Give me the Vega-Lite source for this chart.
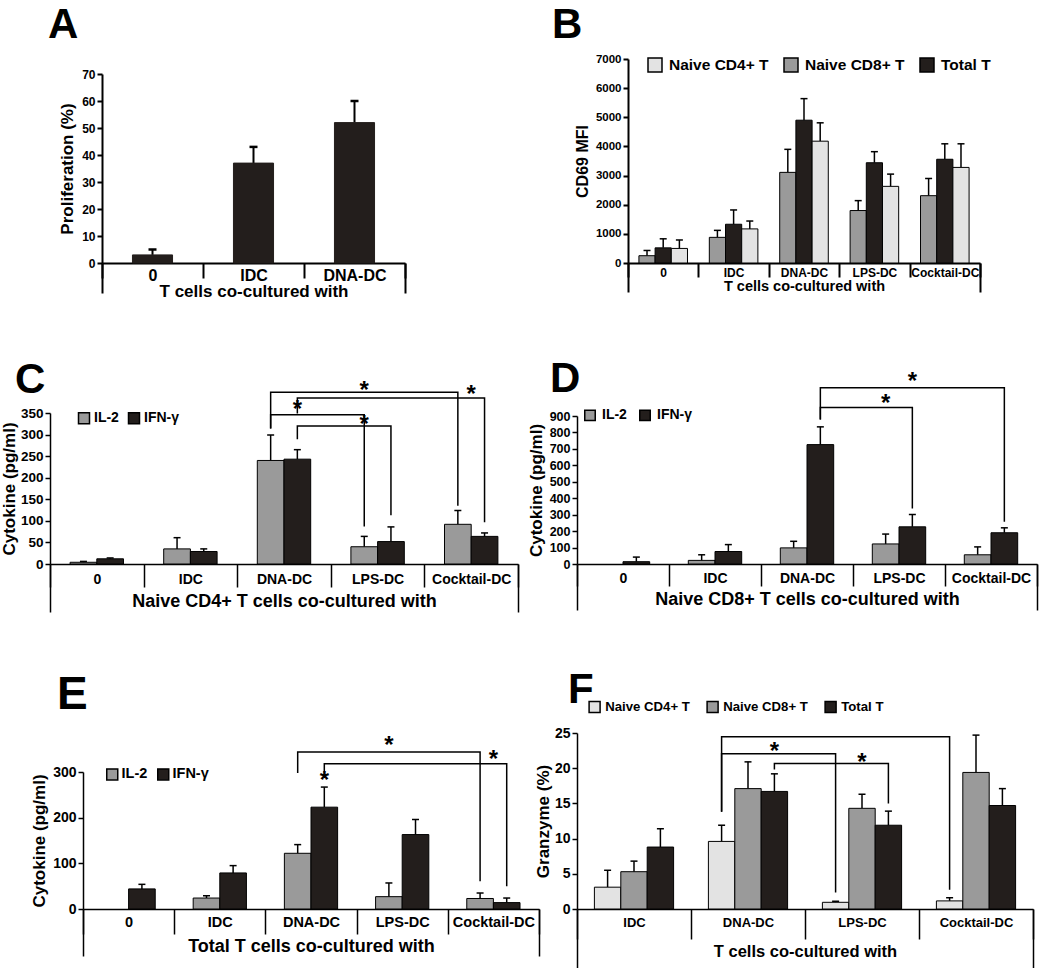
{
"$schema":"https://vega.github.io/schema/vega-lite/v6.json",
"padding":{"left":0,"top":4,"right":5,"bottom":0},
"bounds":"flush",
"spacing":301,
"resolve":{"scale":{"color":"independent","xOffset":"independent"},"legend":{"color":"independent"}},
"datasets":{
"A":[{"cat":"0","grp":"P","v":3,"hi":5},{"cat":"IDC","grp":"P","v":37,"hi":43},{"cat":"DNA-DC","grp":"P","v":52,"hi":60}],
"B":[
{"cat":"0","grp":"Naive CD8+ T","v":250,"hi":430},{"cat":"0","grp":"Total T","v":520,"hi":830},{"cat":"0","grp":"Naive CD4+ T","v":500,"hi":790},
{"cat":"IDC","grp":"Naive CD8+ T","v":880,"hi":1120},{"cat":"IDC","grp":"Total T","v":1330,"hi":1820},{"cat":"IDC","grp":"Naive CD4+ T","v":1170,"hi":1440},
{"cat":"DNA-DC","grp":"Naive CD8+ T","v":3110,"hi":3900},{"cat":"DNA-DC","grp":"Total T","v":4900,"hi":5640},{"cat":"DNA-DC","grp":"Naive CD4+ T","v":4180,"hi":4810},
{"cat":"LPS-DC","grp":"Naive CD8+ T","v":1800,"hi":2140},{"cat":"LPS-DC","grp":"Total T","v":3440,"hi":3820},{"cat":"LPS-DC","grp":"Naive CD4+ T","v":2630,"hi":3050},
{"cat":"Cocktail-DC","grp":"Naive CD8+ T","v":2310,"hi":2900},{"cat":"Cocktail-DC","grp":"Total T","v":3560,"hi":4090},{"cat":"Cocktail-DC","grp":"Naive CD4+ T","v":3280,"hi":4090}],
"C":[
{"cat":"0","grp":"IL-2","v":4,"hi":6},{"cat":"0","grp":"IFN-γ","v":12,"hi":14},
{"cat":"IDC","grp":"IL-2","v":35,"hi":61},{"cat":"IDC","grp":"IFN-γ","v":29,"hi":35},
{"cat":"DNA-DC","grp":"IL-2","v":240,"hi":299},{"cat":"DNA-DC","grp":"IFN-γ","v":243,"hi":265},
{"cat":"LPS-DC","grp":"IL-2","v":40,"hi":64},{"cat":"LPS-DC","grp":"IFN-γ","v":52,"hi":86},
{"cat":"Cocktail-DC","grp":"IL-2","v":92,"hi":124},{"cat":"Cocktail-DC","grp":"IFN-γ","v":64,"hi":72}],
"Cbr":[
{"b":1,"o":0,"cat":"DNA-DC","grp":"IL-2","y":314},{"b":1,"o":1,"cat":"DNA-DC","grp":"IL-2","y":398},{"b":1,"o":2,"cat":"Cocktail-DC","grp":"IL-2","y":398},{"b":1,"o":3,"cat":"Cocktail-DC","grp":"IL-2","y":135},
{"b":2,"o":0,"cat":"DNA-DC","grp":"IFN-γ","y":349},{"b":2,"o":1,"cat":"DNA-DC","grp":"IFN-γ","y":385},{"b":2,"o":2,"cat":"Cocktail-DC","grp":"IFN-γ","y":385},{"b":2,"o":3,"cat":"Cocktail-DC","grp":"IFN-γ","y":97},
{"b":3,"o":0,"cat":"DNA-DC","grp":"IL-2","y":314},{"b":3,"o":1,"cat":"DNA-DC","grp":"IL-2","y":346},{"b":3,"o":2,"cat":"LPS-DC","grp":"IL-2","y":346},{"b":3,"o":3,"cat":"LPS-DC","grp":"IL-2","y":87},
{"b":4,"o":0,"cat":"DNA-DC","grp":"IFN-γ","y":289},{"b":4,"o":1,"cat":"DNA-DC","grp":"IFN-γ","y":320},{"b":4,"o":2,"cat":"LPS-DC","grp":"IFN-γ","y":320},{"b":4,"o":3,"cat":"LPS-DC","grp":"IFN-γ","y":113}],
"Cst1":[{"cat":"LPS-DC","grp":"IL-2","y":401},{"cat":"DNA-DC","grp":"IFN-γ","y":358},{"cat":"LPS-DC","grp":"IL-2","y":323}],
"Cst2":[{"cat":"Cocktail-DC","y":392}],
"D":[
{"cat":"0","grp":"IFN-γ","v":14,"hi":42},
{"cat":"IDC","grp":"IL-2","v":22,"hi":56},{"cat":"IDC","grp":"IFN-γ","v":76,"hi":118},
{"cat":"DNA-DC","grp":"IL-2","v":98,"hi":138},{"cat":"DNA-DC","grp":"IFN-γ","v":726,"hi":834},
{"cat":"LPS-DC","grp":"IL-2","v":122,"hi":182},{"cat":"LPS-DC","grp":"IFN-γ","v":226,"hi":301},
{"cat":"Cocktail-DC","grp":"IL-2","v":56,"hi":104},{"cat":"Cocktail-DC","grp":"IFN-γ","v":190,"hi":220}],
"Dbr":[
{"b":1,"o":0,"cat":"DNA-DC","grp":"IFN-γ","y":878},{"b":1,"o":1,"cat":"DNA-DC","grp":"IFN-γ","y":1072},{"b":1,"o":2,"cat":"Cocktail-DC","grp":"IFN-γ","y":1072},{"b":1,"o":3,"cat":"Cocktail-DC","grp":"IFN-γ","y":257},
{"b":2,"o":0,"cat":"DNA-DC","grp":"IFN-γ","y":878},{"b":2,"o":1,"cat":"DNA-DC","grp":"IFN-γ","y":952},{"b":2,"o":2,"cat":"LPS-DC","grp":"IFN-γ","y":952},{"b":2,"o":3,"cat":"LPS-DC","grp":"IFN-γ","y":337}],
"Dst1":[{"cat":"LPS-DC","grp":"IFN-γ","y":1104},{"cat":"LPS-DC","grp":"IL-2","y":974}],
"E":[
{"cat":"0","grp":"IFN-γ","v":44,"hi":54},
{"cat":"IDC","grp":"IL-2","v":24,"hi":29},{"cat":"IDC","grp":"IFN-γ","v":79,"hi":95},
{"cat":"DNA-DC","grp":"IL-2","v":122,"hi":141},{"cat":"DNA-DC","grp":"IFN-γ","v":223,"hi":267},
{"cat":"LPS-DC","grp":"IL-2","v":27,"hi":57},{"cat":"LPS-DC","grp":"IFN-γ","v":163,"hi":196},
{"cat":"Cocktail-DC","grp":"IL-2","v":23,"hi":35},{"cat":"Cocktail-DC","grp":"IFN-γ","v":14,"hi":24}],
"Ebr":[
{"b":1,"o":0,"cat":"DNA-DC","grp":"IL-2","y":298},{"b":1,"o":1,"cat":"DNA-DC","grp":"IL-2","y":344},{"b":1,"o":2,"cat":"Cocktail-DC","grp":"IL-2","y":344},{"b":1,"o":3,"cat":"Cocktail-DC","grp":"IL-2","y":61},
{"b":2,"o":0,"cat":"DNA-DC","grp":"IFN-γ","y":287},{"b":2,"o":1,"cat":"DNA-DC","grp":"IFN-γ","y":318},{"b":2,"o":2,"cat":"Cocktail-DC","grp":"IFN-γ","y":318},{"b":2,"o":3,"cat":"Cocktail-DC","grp":"IFN-γ","y":50}],
"Est1":[{"cat":"LPS-DC","grp":"IL-2","y":358},{"cat":"DNA-DC","grp":"IFN-γ","y":281}],
"Est2":[{"cat":"Cocktail-DC","y":327}],
"F":[
{"cat":"IDC","grp":"Naive CD4+ T","v":3.1,"hi":5.5},{"cat":"IDC","grp":"Naive CD8+ T","v":5.3,"hi":6.8},{"cat":"IDC","grp":"Total T","v":8.8,"hi":11.4},
{"cat":"DNA-DC","grp":"Naive CD4+ T","v":9.6,"hi":11.9},{"cat":"DNA-DC","grp":"Naive CD8+ T","v":17.1,"hi":20.9},{"cat":"DNA-DC","grp":"Total T","v":16.7,"hi":19.2},
{"cat":"LPS-DC","grp":"Naive CD4+ T","v":0.95,"hi":1.1},{"cat":"LPS-DC","grp":"Naive CD8+ T","v":14.3,"hi":16.3},{"cat":"LPS-DC","grp":"Total T","v":11.9,"hi":13.9},
{"cat":"Cocktail-DC","grp":"Naive CD4+ T","v":1.15,"hi":1.6},{"cat":"Cocktail-DC","grp":"Naive CD8+ T","v":19.4,"hi":24.7},{"cat":"Cocktail-DC","grp":"Total T","v":14.7,"hi":17.1}],
"Fbr":[
{"b":1,"o":0,"cat":"DNA-DC","grp":"Naive CD4+ T","y":13.8},{"b":1,"o":1,"cat":"DNA-DC","grp":"Naive CD4+ T","y":24.47},{"b":1,"o":2,"cat":"Cocktail-DC","grp":"Naive CD4+ T","y":24.47},{"b":1,"o":3,"cat":"Cocktail-DC","grp":"Naive CD4+ T","y":2.74},
{"b":2,"o":0,"cat":"DNA-DC","grp":"Naive CD4+ T","y":13.8},{"b":2,"o":1,"cat":"DNA-DC","grp":"Naive CD4+ T","y":22.07},{"b":2,"o":2,"cat":"LPS-DC","grp":"Naive CD4+ T","y":22.07},{"b":2,"o":3,"cat":"LPS-DC","grp":"Naive CD4+ T","y":2.36},
{"b":3,"o":0,"cat":"DNA-DC","grp":"Total T","y":19.8},{"b":3,"o":1,"cat":"DNA-DC","grp":"Total T","y":20.67},{"b":3,"o":2,"cat":"LPS-DC","grp":"Total T","y":20.67},{"b":3,"o":3,"cat":"LPS-DC","grp":"Total T","y":15.0}],
"Fst1":[{"cat":"DNA-DC","grp":"Total T","y":22.26}],
"Fst2":[{"cat":"LPS-DC","y":20.8}]
},
"vconcat":[
{"hconcat":[
{
"width":355,"height":204,
"title":{"text":"A","dx":-2,"dy":-8},
"layer":[
{"layer":[
{"data":{"name":"A"},"mark":{"type":"rule","color":"black","strokeWidth":2},
 "encoding":{
  "x":{"field":"cat","type":"nominal","scale":{"domain":["0","IDC","DNA-DC"],"range":[52,355],"paddingInner":0,"paddingOuter":0},"axis":{"tickBand":"extent","tickSize":15,"tickWidth":2,"domainWidth":2,"labelFontSize":16,"labelPadding":-11,"title":"T cells co-cultured with","titleFontSize":17,"titlePadding":0}},
  "xOffset":{"field":"grp","type":"nominal","scale":{"paddingInner":0,"paddingOuter":0.76}},
  "y":{"field":"v","type":"quantitative","scale":{"domain":[0,70],"range":[204,15],"nice":false},"axis":{"values":[0,10,20,30,40,50,60,70],"offset":-52,"tickSize":5,"tickWidth":2,"domainWidth":2,"labelFontSize":12,"title":"Proliferation (%)","titleFontSize":17,"titlePadding":5}},
  "y2":{"field":"hi"}}},
{"data":{"name":"A"},"mark":{"type":"bar","color":"#231e1c","stroke":"#231e1c","strokeWidth":1},
 "encoding":{
  "x":{"field":"cat","type":"nominal","scale":{"domain":["0","IDC","DNA-DC"],"range":[52,355],"paddingInner":0,"paddingOuter":0},"axis":{"tickBand":"extent","tickSize":15,"tickWidth":2,"domainWidth":2,"labelFontSize":16,"labelPadding":-11,"title":"T cells co-cultured with","titleFontSize":17,"titlePadding":0}},
  "xOffset":{"field":"grp","type":"nominal","scale":{"paddingInner":0,"paddingOuter":0.76}},
  "y":{"field":"v","type":"quantitative","scale":{"domain":[0,70],"range":[204,15],"nice":false},"axis":{"values":[0,10,20,30,40,50,60,70],"offset":-52,"tickSize":5,"tickWidth":2,"domainWidth":2,"labelFontSize":12,"title":"Proliferation (%)","titleFontSize":17,"titlePadding":5}}}},
{"data":{"name":"A"},"mark":{"type":"point","shape":"M-1,0L1,0","size":64,"stroke":"black","strokeWidth":2.5,"filled":false,"opacity":1},
 "encoding":{
  "x":{"field":"cat","type":"nominal","scale":{"domain":["0","IDC","DNA-DC"],"range":[52,355],"paddingInner":0,"paddingOuter":0},"axis":{"tickBand":"extent","tickSize":15,"tickWidth":2,"domainWidth":2,"labelFontSize":16,"labelPadding":-11,"title":"T cells co-cultured with","titleFontSize":17,"titlePadding":0}},
  "xOffset":{"field":"grp","type":"nominal","scale":{"paddingInner":0,"paddingOuter":0.76}},
  "y":{"field":"hi","type":"quantitative","scale":{"domain":[0,70],"range":[204,15],"nice":false},"axis":{"values":[0,10,20,30,40,50,60,70],"offset":-52,"tickSize":5,"tickWidth":2,"domainWidth":2,"labelFontSize":12,"title":"Proliferation (%)","titleFontSize":17,"titlePadding":5}}}}
]},
{"data":{"values":[{"f":"frame"}]},"mark":{"type":"point","opacity":0},
 "encoding":{"x":{"field":"f","type":"nominal","scale":{"range":[52,355],"paddingInner":0,"paddingOuter":0},"axis":{"orient":"bottom","tickBand":"extent","labels":false,"domain":false,"title":null,"tickSize":30,"tickWidth":2,"tickColor":"black"}}}}
],
"resolve":{"scale":{"x":"independent"}}
},
{
"width":403,"height":204,
"title":{"text":"B","dx":-25,"dy":-2},
"layer":[
{"layer":[
{"data":{"name":"B"},"mark":{"type":"rule","color":"black","strokeWidth":1.5},
 "encoding":{
  "x":{"field":"cat","type":"nominal","scale":{"domain":["0","IDC","DNA-DC","LPS-DC","Cocktail-DC"],"range":[51,403],"paddingInner":0,"paddingOuter":0},"axis":{"tickBand":"extent","tickSize":14,"tickWidth":2,"domainWidth":2,"labelFontSize":12,"labelPadding":-10,"title":"T cells co-cultured with","titleFontSize":14.5,"titlePadding":1}},
  "xOffset":{"field":"grp","type":"nominal","scale":{"domain":["Naive CD8+ T","Total T","Naive CD4+ T"],"paddingInner":0,"paddingOuter":0.674}},
  "y":{"field":"v","type":"quantitative","scale":{"domain":[0,7000],"range":[204,0],"nice":false},"axis":{"values":[0,1000,2000,3000,4000,5000,6000,7000],"format":"d","offset":-51,"tickSize":5,"tickWidth":2,"domainWidth":2,"labelFontSize":11.5,"title":"CD69 MFI","titleFontSize":16,"titlePadding":5}},
  "y2":{"field":"hi"}}},
{"data":{"name":"B"},"mark":{"type":"bar","stroke":"black","strokeWidth":1},
 "encoding":{
  "x":{"field":"cat","type":"nominal","scale":{"domain":["0","IDC","DNA-DC","LPS-DC","Cocktail-DC"],"range":[51,403],"paddingInner":0,"paddingOuter":0},"axis":{"tickBand":"extent","tickSize":14,"tickWidth":2,"domainWidth":2,"labelFontSize":12,"labelPadding":-10,"title":"T cells co-cultured with","titleFontSize":14.5,"titlePadding":1}},
  "xOffset":{"field":"grp","type":"nominal","scale":{"domain":["Naive CD8+ T","Total T","Naive CD4+ T"],"paddingInner":0,"paddingOuter":0.674}},
  "y":{"field":"v","type":"quantitative","scale":{"domain":[0,7000],"range":[204,0],"nice":false},"axis":{"values":[0,1000,2000,3000,4000,5000,6000,7000],"format":"d","offset":-51,"tickSize":5,"tickWidth":2,"domainWidth":2,"labelFontSize":11.5,"title":"CD69 MFI","titleFontSize":16,"titlePadding":5}},
  "color":{"field":"grp","type":"nominal","scale":{"domain":["Naive CD4+ T","Naive CD8+ T","Total T"],"range":["#e3e3e3","#9a9a9a","#231e1c"]},"legend":{"orient":"none","legendX":70,"legendY":-2,"direction":"horizontal","title":null,"labelFontSize":15.5,"symbolSize":196,"labelOffset":6,"columnPadding":12,"symbolType":"square","symbolStrokeColor":"black","symbolStrokeWidth":1.5,"padding":0}}}},
{"data":{"name":"B"},"mark":{"type":"point","shape":"M-1,0L1,0","size":49,"stroke":"black","strokeWidth":1.5,"filled":false,"opacity":1},
 "encoding":{
  "x":{"field":"cat","type":"nominal","scale":{"domain":["0","IDC","DNA-DC","LPS-DC","Cocktail-DC"],"range":[51,403],"paddingInner":0,"paddingOuter":0},"axis":{"tickBand":"extent","tickSize":14,"tickWidth":2,"domainWidth":2,"labelFontSize":12,"labelPadding":-10,"title":"T cells co-cultured with","titleFontSize":14.5,"titlePadding":1}},
  "xOffset":{"field":"grp","type":"nominal","scale":{"domain":["Naive CD8+ T","Total T","Naive CD4+ T"],"paddingInner":0,"paddingOuter":0.674}},
  "y":{"field":"hi","type":"quantitative","scale":{"domain":[0,7000],"range":[204,0],"nice":false},"axis":{"values":[0,1000,2000,3000,4000,5000,6000,7000],"format":"d","offset":-51,"tickSize":5,"tickWidth":2,"domainWidth":2,"labelFontSize":11.5,"title":"CD69 MFI","titleFontSize":16,"titlePadding":5}}}}
]},
{"data":{"values":[{"f":"frame"}]},"mark":{"type":"point","opacity":0},
 "encoding":{"x":{"field":"f","type":"nominal","scale":{"range":[51,403],"paddingInner":0,"paddingOuter":0},"axis":{"orient":"bottom","tickBand":"extent","labels":false,"domain":false,"title":null,"tickSize":29,"tickWidth":2,"tickColor":"black"}}}}
],
"resolve":{"scale":{"x":"independent"}}
}
],"spacing":172,"bounds":"flush","resolve":{"scale":{"color":"independent","xOffset":"independent"},"legend":{"color":"independent"}}},
{"hconcat":[
{
"width":468,"height":204,
"title":{"text":"C","dx":-35,"dy":46},
"layer":[
{"layer":[
{"data":{"name":"C"},"mark":{"type":"rule","color":"black","strokeWidth":1.5},
 "encoding":{
  "x":{"field":"cat","type":"nominal","scale":{"domain":["0","IDC","DNA-DC","LPS-DC","Cocktail-DC"],"range":[0,468],"paddingInner":0,"paddingOuter":0},"axis":{"tickBand":"extent","tickSize":23,"tickWidth":1.5,"domainWidth":1.5,"labelFontSize":14,"labelPadding":-15,"title":"Naive CD4+ T cells co-cultured with","titleFontSize":18,"titlePadding":5}},
  "xOffset":{"field":"grp","type":"nominal","scale":{"domain":["IL-2","IFN-γ"],"paddingInner":0,"paddingOuter":0.753}},
  "y":{"field":"v","type":"quantitative","scale":{"domain":[0,350],"range":[204,53],"nice":false},"axis":{"values":[0,50,100,150,200,250,300,350],"tickSize":5,"tickWidth":1.5,"domainWidth":1.5,"labelFontSize":13.5,"title":"Cytokine (pg/ml)","titleFontSize":17,"titlePadding":2}},
  "y2":{"field":"hi"}}},
{"data":{"name":"C"},"mark":{"type":"bar","stroke":"black","strokeWidth":1},
 "encoding":{
  "x":{"field":"cat","type":"nominal","scale":{"domain":["0","IDC","DNA-DC","LPS-DC","Cocktail-DC"],"range":[0,468],"paddingInner":0,"paddingOuter":0},"axis":{"tickBand":"extent","tickSize":23,"tickWidth":1.5,"domainWidth":1.5,"labelFontSize":14,"labelPadding":-15,"title":"Naive CD4+ T cells co-cultured with","titleFontSize":18,"titlePadding":5}},
  "xOffset":{"field":"grp","type":"nominal","scale":{"domain":["IL-2","IFN-γ"],"paddingInner":0,"paddingOuter":0.753}},
  "y":{"field":"v","type":"quantitative","scale":{"domain":[0,350],"range":[204,53],"nice":false},"axis":{"values":[0,50,100,150,200,250,300,350],"tickSize":5,"tickWidth":1.5,"domainWidth":1.5,"labelFontSize":13.5,"title":"Cytokine (pg/ml)","titleFontSize":17,"titlePadding":2}},
  "color":{"field":"grp","type":"nominal","scale":{"domain":["IL-2","IFN-γ"],"range":["#9a9a9a","#231e1c"]},"legend":{"orient":"none","legendX":27,"legendY":51,"direction":"horizontal","title":null,"labelFontSize":14,"symbolSize":121,"labelOffset":3,"columnPadding":6,"symbolType":"square","symbolStrokeColor":"black","symbolStrokeWidth":1.5,"padding":0}}}},
{"data":{"name":"C"},"mark":{"type":"point","shape":"M-1,0L1,0","size":49,"stroke":"black","strokeWidth":1.5,"filled":false,"opacity":1},
 "encoding":{
  "x":{"field":"cat","type":"nominal","scale":{"domain":["0","IDC","DNA-DC","LPS-DC","Cocktail-DC"],"range":[0,468],"paddingInner":0,"paddingOuter":0},"axis":{"tickBand":"extent","tickSize":23,"tickWidth":1.5,"domainWidth":1.5,"labelFontSize":14,"labelPadding":-15,"title":"Naive CD4+ T cells co-cultured with","titleFontSize":18,"titlePadding":5}},
  "xOffset":{"field":"grp","type":"nominal","scale":{"domain":["IL-2","IFN-γ"],"paddingInner":0,"paddingOuter":0.753}},
  "y":{"field":"hi","type":"quantitative","scale":{"domain":[0,350],"range":[204,53],"nice":false},"axis":{"values":[0,50,100,150,200,250,300,350],"tickSize":5,"tickWidth":1.5,"domainWidth":1.5,"labelFontSize":13.5,"title":"Cytokine (pg/ml)","titleFontSize":17,"titlePadding":2}}}},
{"data":{"name":"Cbr"},"mark":{"type":"line","color":"black","strokeWidth":1.5},
 "encoding":{
  "x":{"field":"cat","type":"nominal","scale":{"domain":["0","IDC","DNA-DC","LPS-DC","Cocktail-DC"],"range":[0,468],"paddingInner":0,"paddingOuter":0},"axis":{"tickBand":"extent","tickSize":23,"tickWidth":1.5,"domainWidth":1.5,"labelFontSize":14,"labelPadding":-15,"title":"Naive CD4+ T cells co-cultured with","titleFontSize":18,"titlePadding":5}},
  "xOffset":{"field":"grp","type":"nominal","scale":{"domain":["IL-2","IFN-γ"],"paddingInner":0,"paddingOuter":0.753}},
  "y":{"field":"y","type":"quantitative","scale":{"domain":[0,350],"range":[204,53],"nice":false},"axis":{"values":[0,50,100,150,200,250,300,350],"tickSize":5,"tickWidth":1.5,"domainWidth":1.5,"labelFontSize":13.5,"title":"Cytokine (pg/ml)","titleFontSize":17,"titlePadding":2}},
  "detail":{"field":"b","type":"nominal"},"order":{"field":"o","type":"quantitative"}}},
{"data":{"name":"Cst1"},"mark":{"type":"text","text":"*","fontSize":24,"fontWeight":"bold","baseline":"middle","color":"black"},
 "encoding":{
  "x":{"field":"cat","type":"nominal","scale":{"domain":["0","IDC","DNA-DC","LPS-DC","Cocktail-DC"],"range":[0,468],"paddingInner":0,"paddingOuter":0},"axis":{"tickBand":"extent","tickSize":23,"tickWidth":1.5,"domainWidth":1.5,"labelFontSize":14,"labelPadding":-15,"title":"Naive CD4+ T cells co-cultured with","titleFontSize":18,"titlePadding":5}},
  "xOffset":{"field":"grp","type":"nominal","scale":{"domain":["IL-2","IFN-γ"],"paddingInner":0,"paddingOuter":0.753}},
  "y":{"field":"y","type":"quantitative","scale":{"domain":[0,350],"range":[204,53],"nice":false},"axis":{"values":[0,50,100,150,200,250,300,350],"tickSize":5,"tickWidth":1.5,"domainWidth":1.5,"labelFontSize":13.5,"title":"Cytokine (pg/ml)","titleFontSize":17,"titlePadding":2}}}},
{"data":{"name":"Cst2"},"mark":{"type":"text","text":"*","fontSize":24,"fontWeight":"bold","baseline":"middle","color":"black"},
 "encoding":{
  "x":{"field":"cat","type":"nominal","scale":{"domain":["0","IDC","DNA-DC","LPS-DC","Cocktail-DC"],"range":[0,468],"paddingInner":0,"paddingOuter":0},"axis":{"tickBand":"extent","tickSize":23,"tickWidth":1.5,"domainWidth":1.5,"labelFontSize":14,"labelPadding":-15,"title":"Naive CD4+ T cells co-cultured with","titleFontSize":18,"titlePadding":5}},
  "y":{"field":"y","type":"quantitative","scale":{"domain":[0,350],"range":[204,53],"nice":false},"axis":{"values":[0,50,100,150,200,250,300,350],"tickSize":5,"tickWidth":1.5,"domainWidth":1.5,"labelFontSize":13.5,"title":"Cytokine (pg/ml)","titleFontSize":17,"titlePadding":2}}}}
]},
{"data":{"values":[{"f":"frame"}]},"mark":{"type":"point","opacity":0},
 "encoding":{"x":{"field":"f","type":"nominal","scale":{"range":[0,468],"paddingInner":0,"paddingOuter":0},"axis":{"orient":"bottom","tickBand":"extent","labels":false,"domain":false,"title":null,"tickSize":48,"tickWidth":1.5,"tickColor":"black"}}}}
],
"resolve":{"scale":{"x":"independent"}}
},
{
"width":460,"height":204,
"title":{"text":"D","dx":-27,"dy":45},
"layer":[
{"layer":[
{"data":{"name":"D"},"mark":{"type":"rule","color":"black","strokeWidth":1.5},
 "encoding":{
  "x":{"field":"cat","type":"nominal","scale":{"domain":["0","IDC","DNA-DC","LPS-DC","Cocktail-DC"],"range":[0,460],"paddingInner":0,"paddingOuter":0},"axis":{"tickBand":"extent","tickSize":22,"tickWidth":1.5,"domainWidth":1.5,"labelFontSize":14,"labelPadding":-15,"title":"Naive CD8+ T cells co-cultured with","titleFontSize":18,"titlePadding":4}},
  "xOffset":{"field":"grp","type":"nominal","scale":{"domain":["IL-2","IFN-γ"],"paddingInner":0,"paddingOuter":0.723}},
  "y":{"field":"v","type":"quantitative","scale":{"domain":[0,900],"range":[204,56],"nice":false},"axis":{"values":[0,100,200,300,400,500,600,700,800,900],"tickSize":5,"tickWidth":1.5,"domainWidth":1.5,"labelFontSize":12.5,"title":"Cytokine (pg/ml)","titleFontSize":17,"titlePadding":4}},
  "y2":{"field":"hi"}}},
{"data":{"name":"D"},"mark":{"type":"bar","stroke":"black","strokeWidth":1},
 "encoding":{
  "x":{"field":"cat","type":"nominal","scale":{"domain":["0","IDC","DNA-DC","LPS-DC","Cocktail-DC"],"range":[0,460],"paddingInner":0,"paddingOuter":0},"axis":{"tickBand":"extent","tickSize":22,"tickWidth":1.5,"domainWidth":1.5,"labelFontSize":14,"labelPadding":-15,"title":"Naive CD8+ T cells co-cultured with","titleFontSize":18,"titlePadding":4}},
  "xOffset":{"field":"grp","type":"nominal","scale":{"domain":["IL-2","IFN-γ"],"paddingInner":0,"paddingOuter":0.723}},
  "y":{"field":"v","type":"quantitative","scale":{"domain":[0,900],"range":[204,56],"nice":false},"axis":{"values":[0,100,200,300,400,500,600,700,800,900],"tickSize":5,"tickWidth":1.5,"domainWidth":1.5,"labelFontSize":12.5,"title":"Cytokine (pg/ml)","titleFontSize":17,"titlePadding":4}},
  "color":{"field":"grp","type":"nominal","scale":{"domain":["IL-2","IFN-γ"],"range":["#9a9a9a","#231e1c"]},"legend":{"orient":"none","legendX":6,"legendY":48,"direction":"horizontal","title":null,"labelFontSize":14,"symbolSize":110,"labelOffset":5,"columnPadding":9,"symbolType":"square","symbolStrokeColor":"black","symbolStrokeWidth":1.5,"padding":0}}}},
{"data":{"name":"D"},"mark":{"type":"point","shape":"M-1,0L1,0","size":49,"stroke":"black","strokeWidth":1.5,"filled":false,"opacity":1},
 "encoding":{
  "x":{"field":"cat","type":"nominal","scale":{"domain":["0","IDC","DNA-DC","LPS-DC","Cocktail-DC"],"range":[0,460],"paddingInner":0,"paddingOuter":0},"axis":{"tickBand":"extent","tickSize":22,"tickWidth":1.5,"domainWidth":1.5,"labelFontSize":14,"labelPadding":-15,"title":"Naive CD8+ T cells co-cultured with","titleFontSize":18,"titlePadding":4}},
  "xOffset":{"field":"grp","type":"nominal","scale":{"domain":["IL-2","IFN-γ"],"paddingInner":0,"paddingOuter":0.723}},
  "y":{"field":"hi","type":"quantitative","scale":{"domain":[0,900],"range":[204,56],"nice":false},"axis":{"values":[0,100,200,300,400,500,600,700,800,900],"tickSize":5,"tickWidth":1.5,"domainWidth":1.5,"labelFontSize":12.5,"title":"Cytokine (pg/ml)","titleFontSize":17,"titlePadding":4}}}},
{"data":{"name":"Dbr"},"mark":{"type":"line","color":"black","strokeWidth":1.5},
 "encoding":{
  "x":{"field":"cat","type":"nominal","scale":{"domain":["0","IDC","DNA-DC","LPS-DC","Cocktail-DC"],"range":[0,460],"paddingInner":0,"paddingOuter":0},"axis":{"tickBand":"extent","tickSize":22,"tickWidth":1.5,"domainWidth":1.5,"labelFontSize":14,"labelPadding":-15,"title":"Naive CD8+ T cells co-cultured with","titleFontSize":18,"titlePadding":4}},
  "xOffset":{"field":"grp","type":"nominal","scale":{"domain":["IL-2","IFN-γ"],"paddingInner":0,"paddingOuter":0.723}},
  "y":{"field":"y","type":"quantitative","scale":{"domain":[0,900],"range":[204,56],"nice":false},"axis":{"values":[0,100,200,300,400,500,600,700,800,900],"tickSize":5,"tickWidth":1.5,"domainWidth":1.5,"labelFontSize":12.5,"title":"Cytokine (pg/ml)","titleFontSize":17,"titlePadding":4}},
  "detail":{"field":"b","type":"nominal"},"order":{"field":"o","type":"quantitative"}}},
{"data":{"name":"Dst1"},"mark":{"type":"text","text":"*","fontSize":24,"fontWeight":"bold","baseline":"middle","color":"black"},
 "encoding":{
  "x":{"field":"cat","type":"nominal","scale":{"domain":["0","IDC","DNA-DC","LPS-DC","Cocktail-DC"],"range":[0,460],"paddingInner":0,"paddingOuter":0},"axis":{"tickBand":"extent","tickSize":22,"tickWidth":1.5,"domainWidth":1.5,"labelFontSize":14,"labelPadding":-15,"title":"Naive CD8+ T cells co-cultured with","titleFontSize":18,"titlePadding":4}},
  "xOffset":{"field":"grp","type":"nominal","scale":{"domain":["IL-2","IFN-γ"],"paddingInner":0,"paddingOuter":0.723}},
  "y":{"field":"y","type":"quantitative","scale":{"domain":[0,900],"range":[204,56],"nice":false},"axis":{"values":[0,100,200,300,400,500,600,700,800,900],"tickSize":5,"tickWidth":1.5,"domainWidth":1.5,"labelFontSize":12.5,"title":"Cytokine (pg/ml)","titleFontSize":17,"titlePadding":4}}}}
]},
{"data":{"values":[{"f":"frame"}]},"mark":{"type":"point","opacity":0},
 "encoding":{"x":{"field":"f","type":"nominal","scale":{"range":[0,460],"paddingInner":0,"paddingOuter":0},"axis":{"orient":"bottom","tickBand":"extent","labels":false,"domain":false,"title":null,"tickSize":46,"tickWidth":1.5,"tickColor":"black"}}}}
],
"resolve":{"scale":{"x":"independent"}}
}
],"spacing":59,"bounds":"flush","resolve":{"scale":{"color":"independent","xOffset":"independent"},"legend":{"color":"independent"}}},
{"hconcat":[
{
"width":489,"height":248,
"title":{"text":"E","dx":7,"dy":62,"fontSize":46},
"layer":[
{"layer":[
{"data":{"name":"E"},"mark":{"type":"rule","color":"black","strokeWidth":1.5},
 "encoding":{
  "x":{"field":"cat","type":"nominal","scale":{"domain":["0","IDC","DNA-DC","LPS-DC","Cocktail-DC"],"range":[33,489],"paddingInner":0,"paddingOuter":0},"axis":{"tickBand":"extent","tickSize":25,"tickWidth":1.5,"domainWidth":1.5,"labelFontSize":14.5,"labelPadding":-19,"title":"Total T cells co-cultured with","titleFontSize":18,"titlePadding":3}},
  "xOffset":{"field":"grp","type":"nominal","scale":{"domain":["IL-2","IFN-γ"],"paddingInner":0,"paddingOuter":0.713}},
  "y":{"field":"v","type":"quantitative","scale":{"domain":[0,300],"range":[248,111],"nice":false},"axis":{"values":[0,100,200,300],"offset":-33,"tickSize":5,"tickWidth":1.5,"domainWidth":1.5,"labelFontSize":14,"title":"Cytokine (pg/ml)","titleFontSize":17,"titlePadding":4}},
  "y2":{"field":"hi"}}},
{"data":{"name":"E"},"mark":{"type":"bar","stroke":"black","strokeWidth":1},
 "encoding":{
  "x":{"field":"cat","type":"nominal","scale":{"domain":["0","IDC","DNA-DC","LPS-DC","Cocktail-DC"],"range":[33,489],"paddingInner":0,"paddingOuter":0},"axis":{"tickBand":"extent","tickSize":25,"tickWidth":1.5,"domainWidth":1.5,"labelFontSize":14.5,"labelPadding":-19,"title":"Total T cells co-cultured with","titleFontSize":18,"titlePadding":3}},
  "xOffset":{"field":"grp","type":"nominal","scale":{"domain":["IL-2","IFN-γ"],"paddingInner":0,"paddingOuter":0.713}},
  "y":{"field":"v","type":"quantitative","scale":{"domain":[0,300],"range":[248,111],"nice":false},"axis":{"values":[0,100,200,300],"offset":-33,"tickSize":5,"tickWidth":1.5,"domainWidth":1.5,"labelFontSize":14,"title":"Cytokine (pg/ml)","titleFontSize":17,"titlePadding":4}},
  "color":{"field":"grp","type":"nominal","scale":{"domain":["IL-2","IFN-γ"],"range":["#9a9a9a","#231e1c"]},"legend":{"orient":"none","legendX":55,"legendY":106,"direction":"horizontal","title":null,"labelFontSize":14.5,"symbolSize":121,"labelOffset":2,"columnPadding":6,"symbolType":"square","symbolStrokeColor":"black","symbolStrokeWidth":1.5,"padding":0}}}},
{"data":{"name":"E"},"mark":{"type":"point","shape":"M-1,0L1,0","size":49,"stroke":"black","strokeWidth":1.5,"filled":false,"opacity":1},
 "encoding":{
  "x":{"field":"cat","type":"nominal","scale":{"domain":["0","IDC","DNA-DC","LPS-DC","Cocktail-DC"],"range":[33,489],"paddingInner":0,"paddingOuter":0},"axis":{"tickBand":"extent","tickSize":25,"tickWidth":1.5,"domainWidth":1.5,"labelFontSize":14.5,"labelPadding":-19,"title":"Total T cells co-cultured with","titleFontSize":18,"titlePadding":3}},
  "xOffset":{"field":"grp","type":"nominal","scale":{"domain":["IL-2","IFN-γ"],"paddingInner":0,"paddingOuter":0.713}},
  "y":{"field":"hi","type":"quantitative","scale":{"domain":[0,300],"range":[248,111],"nice":false},"axis":{"values":[0,100,200,300],"offset":-33,"tickSize":5,"tickWidth":1.5,"domainWidth":1.5,"labelFontSize":14,"title":"Cytokine (pg/ml)","titleFontSize":17,"titlePadding":4}}}},
{"data":{"name":"Ebr"},"mark":{"type":"line","color":"black","strokeWidth":1.5},
 "encoding":{
  "x":{"field":"cat","type":"nominal","scale":{"domain":["0","IDC","DNA-DC","LPS-DC","Cocktail-DC"],"range":[33,489],"paddingInner":0,"paddingOuter":0},"axis":{"tickBand":"extent","tickSize":25,"tickWidth":1.5,"domainWidth":1.5,"labelFontSize":14.5,"labelPadding":-19,"title":"Total T cells co-cultured with","titleFontSize":18,"titlePadding":3}},
  "xOffset":{"field":"grp","type":"nominal","scale":{"domain":["IL-2","IFN-γ"],"paddingInner":0,"paddingOuter":0.713}},
  "y":{"field":"y","type":"quantitative","scale":{"domain":[0,300],"range":[248,111],"nice":false},"axis":{"values":[0,100,200,300],"offset":-33,"tickSize":5,"tickWidth":1.5,"domainWidth":1.5,"labelFontSize":14,"title":"Cytokine (pg/ml)","titleFontSize":17,"titlePadding":4}},
  "detail":{"field":"b","type":"nominal"},"order":{"field":"o","type":"quantitative"}}},
{"data":{"name":"Est1"},"mark":{"type":"text","text":"*","fontSize":24,"fontWeight":"bold","baseline":"middle","color":"black"},
 "encoding":{
  "x":{"field":"cat","type":"nominal","scale":{"domain":["0","IDC","DNA-DC","LPS-DC","Cocktail-DC"],"range":[33,489],"paddingInner":0,"paddingOuter":0},"axis":{"tickBand":"extent","tickSize":25,"tickWidth":1.5,"domainWidth":1.5,"labelFontSize":14.5,"labelPadding":-19,"title":"Total T cells co-cultured with","titleFontSize":18,"titlePadding":3}},
  "xOffset":{"field":"grp","type":"nominal","scale":{"domain":["IL-2","IFN-γ"],"paddingInner":0,"paddingOuter":0.713}},
  "y":{"field":"y","type":"quantitative","scale":{"domain":[0,300],"range":[248,111],"nice":false},"axis":{"values":[0,100,200,300],"offset":-33,"tickSize":5,"tickWidth":1.5,"domainWidth":1.5,"labelFontSize":14,"title":"Cytokine (pg/ml)","titleFontSize":17,"titlePadding":4}}}},
{"data":{"name":"Est2"},"mark":{"type":"text","text":"*","fontSize":24,"fontWeight":"bold","baseline":"middle","color":"black"},
 "encoding":{
  "x":{"field":"cat","type":"nominal","scale":{"domain":["0","IDC","DNA-DC","LPS-DC","Cocktail-DC"],"range":[33,489],"paddingInner":0,"paddingOuter":0},"axis":{"tickBand":"extent","tickSize":25,"tickWidth":1.5,"domainWidth":1.5,"labelFontSize":14.5,"labelPadding":-19,"title":"Total T cells co-cultured with","titleFontSize":18,"titlePadding":3}},
  "y":{"field":"y","type":"quantitative","scale":{"domain":[0,300],"range":[248,111],"nice":false},"axis":{"values":[0,100,200,300],"offset":-33,"tickSize":5,"tickWidth":1.5,"domainWidth":1.5,"labelFontSize":14,"title":"Cytokine (pg/ml)","titleFontSize":17,"titlePadding":4}}}}
]},
{"data":{"values":[{"f":"frame"}]},"mark":{"type":"point","opacity":0},
 "encoding":{"x":{"field":"f","type":"nominal","scale":{"range":[33,489],"paddingInner":0,"paddingOuter":0},"axis":{"orient":"bottom","tickBand":"extent","labels":false,"domain":false,"title":null,"tickSize":47,"tickWidth":1.5,"tickColor":"black"}}}}
],
"resolve":{"scale":{"x":"independent"}}
},
{
"width":456,"height":248,
"title":{"text":"F","dx":-9,"dy":55},
"layer":[
{"layer":[
{"data":{"name":"F"},"mark":{"type":"rule","color":"black","strokeWidth":1.5},
 "encoding":{
  "x":{"field":"cat","type":"nominal","scale":{"domain":["IDC","DNA-DC","LPS-DC","Cocktail-DC"],"range":[0,456],"paddingInner":0,"paddingOuter":0},"axis":{"tickBand":"extent","tickSize":30,"tickWidth":1.5,"domainWidth":1.5,"labelFontSize":13,"labelPadding":-23,"title":"T cells co-cultured with","titleFontSize":16.5,"titlePadding":4}},
  "xOffset":{"field":"grp","type":"nominal","scale":{"domain":["Naive CD4+ T","Naive CD8+ T","Total T"],"paddingInner":0,"paddingOuter":0.659}},
  "y":{"field":"v","type":"quantitative","scale":{"domain":[0,25],"range":[248,72],"nice":false},"axis":{"values":[0,5,10,15,20,25],"tickSize":5,"tickWidth":1.5,"domainWidth":1.5,"labelFontSize":14,"title":"Granzyme (%)","titleFontSize":17,"titlePadding":2}},
  "y2":{"field":"hi"}}},
{"data":{"name":"F"},"mark":{"type":"bar","stroke":"black","strokeWidth":1},
 "encoding":{
  "x":{"field":"cat","type":"nominal","scale":{"domain":["IDC","DNA-DC","LPS-DC","Cocktail-DC"],"range":[0,456],"paddingInner":0,"paddingOuter":0},"axis":{"tickBand":"extent","tickSize":30,"tickWidth":1.5,"domainWidth":1.5,"labelFontSize":13,"labelPadding":-23,"title":"T cells co-cultured with","titleFontSize":16.5,"titlePadding":4}},
  "xOffset":{"field":"grp","type":"nominal","scale":{"domain":["Naive CD4+ T","Naive CD8+ T","Total T"],"paddingInner":0,"paddingOuter":0.659}},
  "y":{"field":"v","type":"quantitative","scale":{"domain":[0,25],"range":[248,72],"nice":false},"axis":{"values":[0,5,10,15,20,25],"tickSize":5,"tickWidth":1.5,"domainWidth":1.5,"labelFontSize":14,"title":"Granzyme (%)","titleFontSize":17,"titlePadding":2}},
  "color":{"field":"grp","type":"nominal","scale":{"domain":["Naive CD4+ T","Naive CD8+ T","Total T"],"range":["#e3e3e3","#9a9a9a","#231e1c"]},"legend":{"orient":"none","legendX":11,"legendY":39,"direction":"horizontal","title":null,"labelFontSize":13.2,"symbolSize":121,"labelOffset":4,"columnPadding":14,"symbolType":"square","symbolStrokeColor":"black","symbolStrokeWidth":1.5,"padding":0}}}},
{"data":{"name":"F"},"mark":{"type":"point","shape":"M-1,0L1,0","size":49,"stroke":"black","strokeWidth":1.5,"filled":false,"opacity":1},
 "encoding":{
  "x":{"field":"cat","type":"nominal","scale":{"domain":["IDC","DNA-DC","LPS-DC","Cocktail-DC"],"range":[0,456],"paddingInner":0,"paddingOuter":0},"axis":{"tickBand":"extent","tickSize":30,"tickWidth":1.5,"domainWidth":1.5,"labelFontSize":13,"labelPadding":-23,"title":"T cells co-cultured with","titleFontSize":16.5,"titlePadding":4}},
  "xOffset":{"field":"grp","type":"nominal","scale":{"domain":["Naive CD4+ T","Naive CD8+ T","Total T"],"paddingInner":0,"paddingOuter":0.659}},
  "y":{"field":"hi","type":"quantitative","scale":{"domain":[0,25],"range":[248,72],"nice":false},"axis":{"values":[0,5,10,15,20,25],"tickSize":5,"tickWidth":1.5,"domainWidth":1.5,"labelFontSize":14,"title":"Granzyme (%)","titleFontSize":17,"titlePadding":2}}}},
{"data":{"name":"Fbr"},"mark":{"type":"line","color":"black","strokeWidth":1.5},
 "encoding":{
  "x":{"field":"cat","type":"nominal","scale":{"domain":["IDC","DNA-DC","LPS-DC","Cocktail-DC"],"range":[0,456],"paddingInner":0,"paddingOuter":0},"axis":{"tickBand":"extent","tickSize":30,"tickWidth":1.5,"domainWidth":1.5,"labelFontSize":13,"labelPadding":-23,"title":"T cells co-cultured with","titleFontSize":16.5,"titlePadding":4}},
  "xOffset":{"field":"grp","type":"nominal","scale":{"domain":["Naive CD4+ T","Naive CD8+ T","Total T"],"paddingInner":0,"paddingOuter":0.659}},
  "y":{"field":"y","type":"quantitative","scale":{"domain":[0,25],"range":[248,72],"nice":false},"axis":{"values":[0,5,10,15,20,25],"tickSize":5,"tickWidth":1.5,"domainWidth":1.5,"labelFontSize":14,"title":"Granzyme (%)","titleFontSize":17,"titlePadding":2}},
  "detail":{"field":"b","type":"nominal"},"order":{"field":"o","type":"quantitative"}}},
{"data":{"name":"Fst1"},"mark":{"type":"text","text":"*","fontSize":24,"fontWeight":"bold","baseline":"middle","color":"black"},
 "encoding":{
  "x":{"field":"cat","type":"nominal","scale":{"domain":["IDC","DNA-DC","LPS-DC","Cocktail-DC"],"range":[0,456],"paddingInner":0,"paddingOuter":0},"axis":{"tickBand":"extent","tickSize":30,"tickWidth":1.5,"domainWidth":1.5,"labelFontSize":13,"labelPadding":-23,"title":"T cells co-cultured with","titleFontSize":16.5,"titlePadding":4}},
  "xOffset":{"field":"grp","type":"nominal","scale":{"domain":["Naive CD4+ T","Naive CD8+ T","Total T"],"paddingInner":0,"paddingOuter":0.659}},
  "y":{"field":"y","type":"quantitative","scale":{"domain":[0,25],"range":[248,72],"nice":false},"axis":{"values":[0,5,10,15,20,25],"tickSize":5,"tickWidth":1.5,"domainWidth":1.5,"labelFontSize":14,"title":"Granzyme (%)","titleFontSize":17,"titlePadding":2}}}},
{"data":{"name":"Fst2"},"mark":{"type":"text","text":"*","fontSize":24,"fontWeight":"bold","baseline":"middle","color":"black"},
 "encoding":{
  "x":{"field":"cat","type":"nominal","scale":{"domain":["IDC","DNA-DC","LPS-DC","Cocktail-DC"],"range":[0,456],"paddingInner":0,"paddingOuter":0},"axis":{"tickBand":"extent","tickSize":30,"tickWidth":1.5,"domainWidth":1.5,"labelFontSize":13,"labelPadding":-23,"title":"T cells co-cultured with","titleFontSize":16.5,"titlePadding":4}},
  "y":{"field":"y","type":"quantitative","scale":{"domain":[0,25],"range":[248,72],"nice":false},"axis":{"values":[0,5,10,15,20,25],"tickSize":5,"tickWidth":1.5,"domainWidth":1.5,"labelFontSize":14,"title":"Granzyme (%)","titleFontSize":17,"titlePadding":2}}}}
]},
{"data":{"values":[{"f":"frame"}]},"mark":{"type":"point","opacity":0},
 "encoding":{"x":{"field":"f","type":"nominal","scale":{"range":[0,456],"paddingInner":0,"paddingOuter":0},"axis":{"orient":"bottom","tickBand":"extent","labels":false,"domain":false,"title":null,"tickSize":59,"tickWidth":1.5,"tickColor":"black"}}}}
],
"resolve":{"scale":{"x":"independent"}}
}
],"spacing":38,"bounds":"flush","resolve":{"scale":{"color":"independent","xOffset":"independent"},"legend":{"color":"independent"}}}
],
"config":{
"font":"Liberation Sans",
"view":{"stroke":null},
"axis":{"labelFontWeight":"bold","titleFontWeight":"bold","labelColor":"black","titleColor":"black","domainColor":"black","tickColor":"black","grid":false,"labelAngle":0,"labelOverlap":false,"labelFlush":false,"labelFont":"Liberation Sans","titleFont":"Liberation Sans"},
"legend":{"labelFontWeight":"bold","labelColor":"black","labelFont":"Liberation Sans"},
"title":{"font":"Liberation Sans","fontWeight":"bold","color":"black","anchor":"start","frame":"group","baseline":"alphabetic","offset":0,"fontSize":42}
}
}
